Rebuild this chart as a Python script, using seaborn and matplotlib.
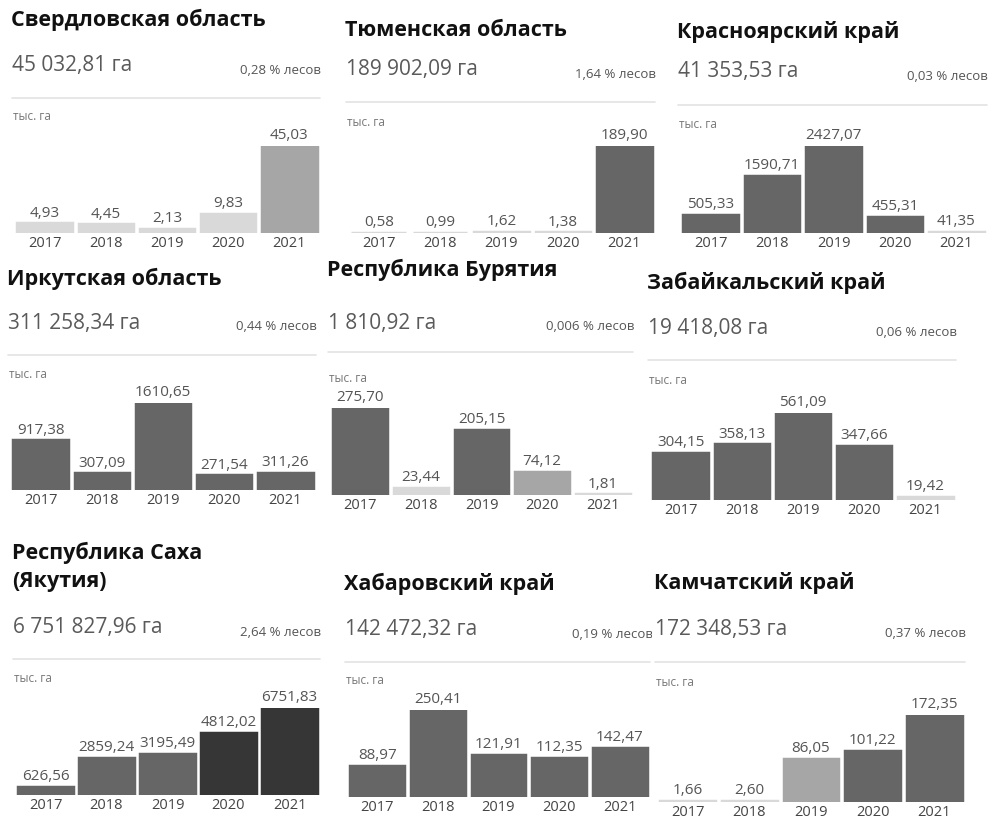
import matplotlib
matplotlib.use("Agg")
import matplotlib.pyplot as plt
import seaborn as sns

# data
years = ["2017", "2018", "2019", "2020", "2021"]
regions = ["Свердловская область", "Тюменская область", "Красноярский край",
           "Иркутская область", "Республика Бурятия", "Забайкальский край",
           "Республика Саха\n(Якутия)", "Хабаровский край", "Камчатский край"]
total_ha = [45032.81, 189902.09, 41353.53, 311258.34, 1810.92, 19418.08,
            6751827.96, 142472.32, 172348.53]
forest_pct = ["0,28", "1,64", "0,03", "0,44", "0,006", "0,06", "2,64", "0,19", "0,37"]
sverdlovsk = [4.93, 4.45, 2.13, 9.83, 45.03]
tyumen = [0.58, 0.99, 1.62, 1.38, 189.90]
krasnoyarsk = [505.33, 1590.71, 2427.07, 455.31, 41.35]
irkutsk = [917.38, 307.09, 1610.65, 271.54, 311.26]
buryatia = [275.70, 23.44, 205.15, 74.12, 1.81]
zabaikal = [304.15, 358.13, 561.09, 347.66, 19.42]
sakha = [626.56, 2859.24, 3195.49, 4812.02, 6751.83]
khabarovsk = [88.97, 250.41, 121.91, 112.35, 142.47]
kamchatka = [1.66, 2.60, 86.05, 101.22, 172.35]
series = [sverdlovsk, tyumen, krasnoyarsk, irkutsk, buryatia, zabaikal,
          sakha, khabarovsk, kamchatka]

# colour shade per bar (0 light .. 3 darkest)
shades = [[0, 0, 0, 0, 1], [0, 0, 0, 0, 2], [2, 2, 2, 2, 0],
          [2, 2, 2, 2, 2], [2, 0, 2, 1, 0], [2, 2, 2, 2, 0],
          [2, 2, 2, 3, 3], [2, 2, 2, 2, 2], [0, 0, 1, 2, 2]]
palette = ["#d9d9d9", "#a6a6a6", "#666666", "#363636"]

# panel layout in pixels: x0, x1, title_y, total_y, sep_y, unit_y, base_y
layout = [(14, 320, 20, 66, 98, 117, 233),
          (348, 655, 30, 70, 102, 122, 233),
          (680, 987, 32, 72, 105, 124, 233),
          (10, 316, 279, 323, 355, 375, 490),
          (330, 633, 270, 323, 352, 378, 495),
          (650, 956, 283, 329, 360, 381, 500),
          (15, 320, 567, 628, 659, 678, 795),
          (347, 650, 584, 630, 662, 681, 797),
          (657, 965, 583, 630, 662, 682, 802)]

W, H = 990, 819
sns.set_style("white")
plt.rcParams["font.family"] = ["Open Sans", "DejaVu Sans"]

fig = plt.figure(figsize=(W / 100, H / 100), dpi=100)


def fx(x):
    return x / W


def fy(y):
    return 1 - y / H


def ru(v):
    return f"{v:,.2f}".replace(",", " ").replace(".", ",")


for i, (name, vals) in enumerate(zip(regions, series)):
    x0, x1, ty, toty, sepy, unity, basey = layout[i]

    # header as an invisible axes so long text can be clipped at the panel edge
    hdr = fig.add_axes([fx(x0 - 4), fy(sepy + 4), fx(x1 - x0 + 6), (sepy + 4 - (ty - 22)) / H])
    hdr.set_xlim(x0 - 4, x1 + 2)
    hdr.set_ylim(sepy + 4, ty - 22)
    hdr.axis("off")
    hdr.text(x0 - 3, ty, name, fontsize=15.5, fontweight="bold", color="#111111",
             va="center", ha="left", linespacing=1.45)
    hdr.text(x0 - 2, toty, ru(total_ha[i]) + " га", fontsize=15, color="#5a5a5a",
             va="center", ha="left")
    pct_txt = forest_pct[i] + " % лесов"
    if i == 7:
        hdr.text(x1 - 78, toty + 4, pct_txt, fontsize=9.5, color="#555555",
                 va="center", ha="left", clip_on=True)
    else:
        hdr.text(x1 + 1, toty + 4, pct_txt, fontsize=9.5, color="#555555",
                 va="center", ha="right")
    hdr.plot([x0 - 2, x1], [sepy, sepy], color="#e3e3e3", lw=1.2)

    fig.text(fx(x0 - 1), fy(unity), "тыс. га", fontsize=8.5, color="#777777",
             va="center", ha="left")

    # bar area
    ax = fig.add_axes([fx(x0), fy(basey), fx(x1 - x0), 87 / H])
    cols = [palette[s] for s in shades[i]]
    sns.barplot(x=years, y=vals, hue=years, palette=cols, legend=False,
                saturation=1, width=0.89, ax=ax)
    # same-colour outline so that tiny values still show as a thin strip
    for p in ax.patches:
        p.set_edgecolor(p.get_facecolor())
        p.set_linewidth(2.5)
    ax.set_ylim(0, max(vals))
    ax.set_xlim(-0.5, 4.5)
    for j, v in enumerate(vals):
        ax.annotate(f"{v:.2f}".replace(".", ","), (j, v), xytext=(0, 2),
                    textcoords="offset points", ha="center", va="bottom",
                    fontsize=11, color="#555555", annotation_clip=False)
    ax.set_yticks([])
    ax.set_xlabel("")
    ax.set_ylabel("")
    ax.tick_params(axis="x", length=0, pad=2, labelsize=10.5, labelcolor="#444444")
    sns.despine(ax=ax, left=True, bottom=True)

fig.savefig("out.png", dpi=100, facecolor="white")
